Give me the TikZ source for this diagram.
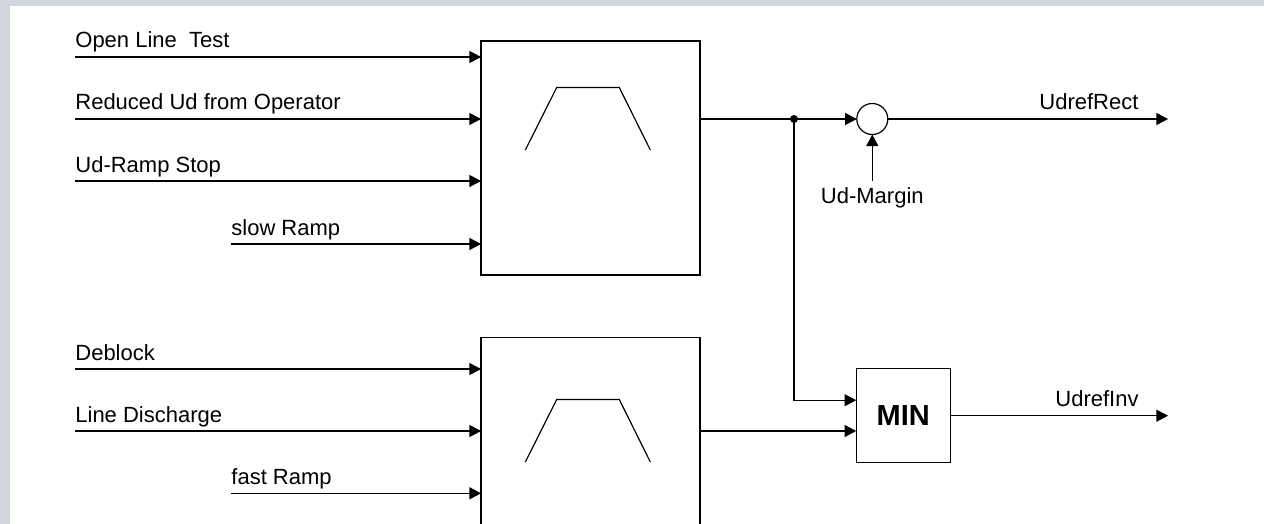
\documentclass[tikz,border=0pt]{standalone}
\usepackage{fontspec}
\setmainfont{Liberation Sans}
\usetikzlibrary{arrows.meta, calc}
\definecolor{bggray}{RGB}{211,214,221}

\begin{document}
\begin{tikzpicture}[
    x=0.5pt,
    y=-0.5pt,
    >={Triangle[length=5.8pt, width=6pt]},
    wire/.style={line width=0.6pt},
    sig/.style={wire, ->},
    block/.style={draw, wire, inner sep=0pt, outer sep=0pt,
        minimum width=109.5pt, minimum height=117pt},
    lbl/.style={anchor=base west, inner sep=0pt, font=\fontsize{11}{13}\selectfont}
]
    \path[use as bounding box, fill=bggray] (0,0) rectangle (1264,524);
    \fill[white] (10,6) rectangle (1264,524);
    \clip (0,0) rectangle (1264,524);

    \node[block] (rampS) at (590.5,158) {};
    \node[block] (rampF) at (590.5,454.3) {};
    \node[draw, circle, wire, minimum size=15.5pt, inner sep=0pt, outer sep=0pt] (sum) at (872.3,119) {};
    \node[block, minimum width=47pt, minimum height=47pt,
        font=\fontsize{14.5}{17}\selectfont\bfseries] (minblk) at (903.2,415.7) {MIN};

    \foreach \n/\xs/\y/\txt in {a/75/57/Open Line~ Test, b/75/119/Reduced Ud from Operator,
        c/75/181/Ud-Ramp Stop, d/231/244/slow Ramp} {
        \coordinate (in\n) at (\xs,\y);
        \node[lbl] (t\n) at (\xs,\y-9) {\txt};
        \draw[sig] (in\n) -- (in\n -| rampS.west);
    }
    \foreach \n/\xs/\y/\txt in {e/75/369/Deblock, f/75/431/Line Discharge, g/231/493.3/fast Ramp} {
        \coordinate (in\n) at (\xs,\y);
        \node[lbl] (t\n) at (\xs,\y-9) {\txt};
        \draw[sig] (in\n) -- (in\n -| rampF.west);
    }

    \coordinate (tS) at (inb -| rampS.center);
    \coordinate (tF) at (inf -| rampF.center);
    \foreach \c in {tS, tF}
        \draw[wire] ($(\c)+(-65.2,31)$) -- ++(31.4,-62.5) -- ++(62.6,0) -- ++(31,62.5);

    \coordinate (jn) at (794,119);
    \draw[wire] (inb -| rampS.east) -- (jn);
    \fill (jn) circle (2pt);
    \draw[sig] (jn) -- (sum.west);
    \draw[sig] (jn) |- ([yshift=7.75pt]minblk.west);
    \draw[sig] (inf -| rampF.east) -- (inf -| minblk.west);

    \coordinate (mg) at (872.3,181);
    \draw[sig] (mg) -- (sum.south);
    \node[lbl, anchor=base] (tmg) at (872.3,203) {Ud-Margin};

    \coordinate (outR) at (1168,119);
    \draw[sig] (sum.east) -- (outR);
    \node[lbl] (tR) at (1039,110) {UdrefRect};

    \coordinate (outI) at (1168,415.7);
    \draw[sig] (minblk.east) -- (outI);
    \node[lbl] (tI) at (1055,406.7) {UdrefInv};
\end{tikzpicture}
\end{document}
